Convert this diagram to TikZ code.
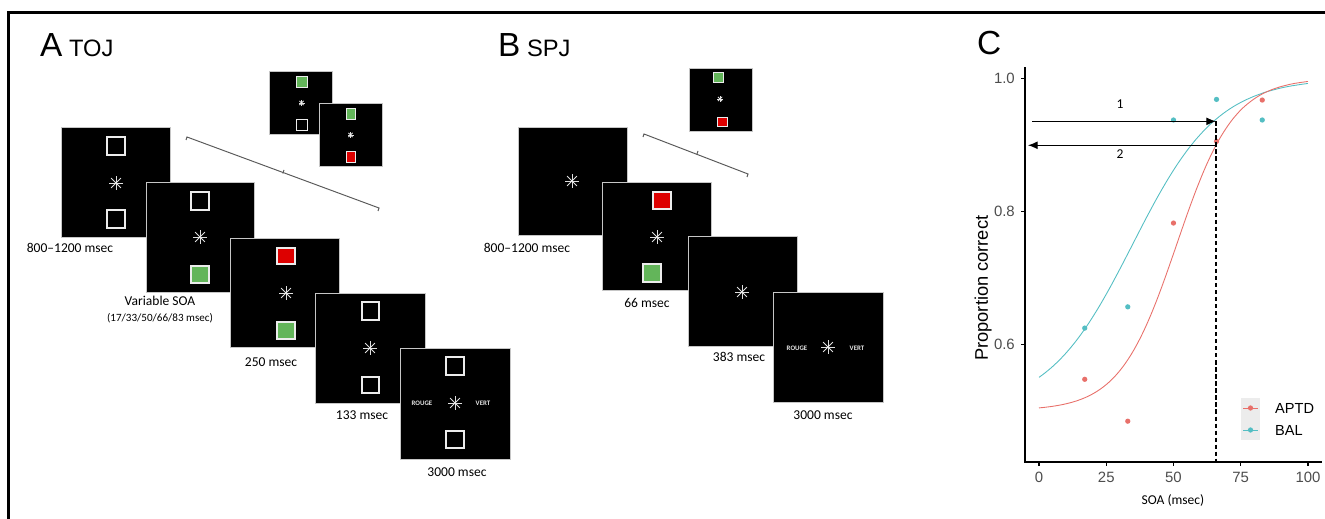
\documentclass[tikz,border=0pt]{standalone}
\usepackage{fontspec}
\setmainfont{Carlito}
\newfontfamily\arialfont{Liberation Sans}
\usetikzlibrary{arrows.meta}
\definecolor{sqgreen}{RGB}{99,181,90}
\definecolor{sqred}{RGB}{221,0,0}
\definecolor{aptd}{RGB}{232,112,106}
\definecolor{bal}{RGB}{84,190,195}
\definecolor{axgray}{RGB}{77,77,77}
\definecolor{keybg}{RGB}{236,236,236}
% fixation asterisk: x, y, half length
\newcommand{\fixcross}[3]{%
  \foreach \a in {0,45,90,135}
    \draw[fixline] (#1,#2) ++(\a:#3) -- ++(\a+180:2*#3);
  \fill[white] (#1,#2) circle (0.35pt);}

\begin{document}
\begin{tikzpicture}[x=0.02cm,y=-0.02cm,
  scr/.style={fill=black,draw=gray!45,line width=0.5pt},
  sq/.style={draw=gray!15,line width=0.75pt},
  smallsq/.style={draw=gray!15,line width=0.45pt},
  fixline/.style={gray!25,line width=0.45pt},
  brk/.style={gray!70!black,line width=0.55pt},
  timelabel/.style={font=\fontsize{7.7}{9}\selectfont},
  respword/.style={text=gray!20,font=\bfseries\fontsize{3.9}{4}\selectfont},
  panellabel/.style={anchor=base west,font=\arialfont\fontsize{19}{20}\selectfont},
  ticklabel/.style={text=axgray,font=\arialfont\fontsize{8.5}{10}\selectfont},
  dot/.style={radius=1.5pt},
  ]
\useasboundingbox (0,0) rectangle (1325,519);
\draw[line width=1.2pt] (8.5,519) -- (8.5,12.5) -- (1325,12.5);

% ---------- A  TOJ ----------
\node[panellabel] (titleA) at (34,57) {A\fontsize{13.5}{14}\selectfont\ TOJ};

\draw[scr] (61,127) rectangle (170,237);
\draw[sq,fill=black] (107,137) rectangle (125,155);
\fixcross{116}{183}{7}
\draw[sq,fill=black] (107,210) rectangle (125,228);
\node[timelabel] (tA1) at (70,248) {800--1200 msec};

\draw[scr] (146,182) rectangle (254,292);
\draw[sq,fill=black] (191,192) rectangle (209,210);
\fixcross{200}{237}{7}
\draw[sq,fill=sqgreen] (191,266) rectangle (209,283);
\node[timelabel] (tA2) at (160,301) {Variable SOA};
\node[font=\fontsize{6.3}{8}\selectfont] (tA2b) at (160,318) {(17/33/50/66/83 msec)};

\draw[scr] (230,238) rectangle (339,347);
\draw[sq,fill=sqred] (277,248) rectangle (295,264);
\fixcross{286}{293}{7}
\draw[sq,fill=sqgreen] (277,322) rectangle (295,339);
\node[timelabel] (tA3) at (271,362) {250 msec};

\draw[scr] (315,293) rectangle (425,403);
\draw[sq,fill=black] (362,302) rectangle (379,320);
\fixcross{370}{348}{7}
\draw[sq,fill=black] (362,377) rectangle (379,393);
\node[timelabel] (tA4) at (362,415) {133 msec};

\draw[scr] (400,348) rectangle (510,459);
\draw[sq,fill=black] (446,357) rectangle (464,375);
\fixcross{455}{403}{7}
\draw[sq,fill=black] (446,431) rectangle (464,448);
\node[respword] (rougeA) at (422,403) {ROUGE};
\node[respword] (vertA) at (483,403) {VERT};
\node[timelabel] (tA5) at (457,472) {3000 msec};

% the two stimulus orders
\draw[scr] (269,71) rectangle (332,134);
\draw[smallsq,fill=sqgreen] (296,76) rectangle (307,87);
\fixcross{301.5}{103}{3}
\draw[smallsq,fill=black] (296,119) rectangle (307,130);
\draw[scr] (319,103) rectangle (382,166);
\draw[smallsq,fill=sqgreen] (346,108) rectangle (355,119);
\fixcross{350.5}{135}{3}
\draw[smallsq,fill=sqred] (346,151) rectangle (355,162);

\coordinate (brAl) at (187,137);
\coordinate (brAr) at (379,208);
\coordinate (brAm) at (284,170);
\draw[brk] (brAl) ++(-1,3) -- (brAl) -- (brAr) -- ++(-1,3);
\draw[brk] (brAm) -- ++(-1.2,3.5);

% ---------- B  SPJ ----------
\node[panellabel] (titleB) at (492,57) {B\fontsize{13.5}{14}\selectfont\ SPJ};

\draw[scr] (518,127) rectangle (627,235);
\fixcross{572}{181}{7}
\node[timelabel] (tB1) at (527,248) {800--1200 msec};

\draw[scr] (602,182) rectangle (711,290);
\draw[sq,fill=sqred] (653,192) rectangle (671,209);
\fixcross{657}{237}{7}
\draw[sq,fill=sqgreen] (643,264) rectangle (661,282);
\node[timelabel] (tB2) at (647,303) {66 msec};

\draw[scr] (688,236) rectangle (797,346);
\fixcross{742}{292}{7}
\node[timelabel] (tB3) at (739,357) {383 msec};

\draw[scr] (773,292) rectangle (883,402);
\fixcross{828}{347}{7}
\node[respword] (rougeB) at (797,348) {ROUGE};
\node[respword] (vertB) at (857,348) {VERT};
\node[timelabel] (tB4) at (823,415) {3000 msec};

\draw[scr] (689,68) rectangle (752,131);
\draw[smallsq,fill=sqgreen] (713,72) rectangle (723,82);
\fixcross{720}{99}{3}
\draw[smallsq,fill=sqred] (717,117) rectangle (727,126);

\coordinate (brBl) at (644,134);
\coordinate (brBr) at (748,174);
\coordinate (brBm) at (698,151);
\draw[brk] (brBl) ++(-1,3) -- (brBl) -- (brBr) -- ++(-1,3);
\draw[brk] (brBm) -- ++(-1.2,3.5);

% ---------- C  psychometric curves ----------
\node[panellabel] (titleC) at (971,55) {C};

\begin{scope}[shift={(1039,743)},x=0.0538cm,y=13.3cm]
  \draw[line width=0.9pt] (-5.2,1.0165) -- (-5.2,0.4226) -- (105.2,0.4226);
  \foreach \s [count=\i] in {0,25,50,75,100}{
    \draw[line width=0.6pt] (\s,0.4226) -- (\s,0.4166);
    \node[ticklabel] (xt\i) at (\s,0.40) {\s};
  }
  \foreach \p [count=\i] in {0.6,0.8,1.0}{
    \draw[line width=0.6pt] (-5.2,\p) -- (-6.7,\p);
    \node[ticklabel,anchor=east] (yt\i) at (-6.7,\p) {\p};
  }
  \node[font=\arialfont\fontsize{10.4}{12}\selectfont,rotate=90] (ylab) at (-20.8,0.684) {Proportion correct};
  \node[font=\fontsize{7.7}{9}\selectfont] (xlab) at (49.8,0.3654) {SOA (msec)};

  \draw[bal,line width=0.5pt,domain=0:100,samples=80,smooth] plot (\x,{0.5+0.5/(1+exp(-(\x-34.8)/15.83))});
  \draw[aptd,line width=0.5pt,domain=0:100,samples=80,smooth] plot (\x,{0.5+0.5/(1+exp(-(\x-51.2)/10.62))});
  \foreach \s/\p in {17/0.547,33/0.484,50/0.782,66/0.905,83/0.967}
    \fill[aptd] (\s,\p) circle[dot];
  \foreach \s/\p in {17/0.624,33/0.656,50/0.937,66/0.968,83/0.937}
    \fill[bal] (\s,\p) circle[dot];

  \coordinate (cut) at (65.8,0.935);
  \coordinate (cutbase) at (65.8,0.4226);
  \draw[dashed,dash pattern=on 2.4pt off 1.6pt,line width=0.7pt] (cut) -- (cutbase);
  \coordinate (arr1s) at (-2.6,0.935);
  \coordinate (arr2s) at (65.8,0.899);
  \coordinate (arr2e) at (-4.1,0.899);
  \draw[-{Latex[length=5.5pt,width=4.5pt]},line width=0.6pt] (arr1s) -- (cut);
  \draw[-{Latex[length=5.5pt,width=4.5pt]},line width=0.6pt] (arr2s) -- (arr2e);
  \node[timelabel] (lab1) at (30.1,0.961) {1};
  \node[timelabel] (lab2) at (30.1,0.886) {2};
\end{scope}

% legend
\fill[keybg] (1241,398) rectangle (1260,440);
\draw[aptd,line width=0.5pt] (1243,408) -- (1258,408);
\fill[aptd] (1250.5,408) circle[dot];
\draw[bal,line width=0.5pt] (1243,430) -- (1258,430);
\fill[bal] (1250.5,430) circle[dot];
\node[anchor=west,font=\arialfont\fontsize{8.3}{10}\selectfont] (keyA) at (1269,408) {APTD};
\node[anchor=west,font=\arialfont\fontsize{8.3}{10}\selectfont] (keyB) at (1269,430) {BAL};
\end{tikzpicture}
\end{document}
